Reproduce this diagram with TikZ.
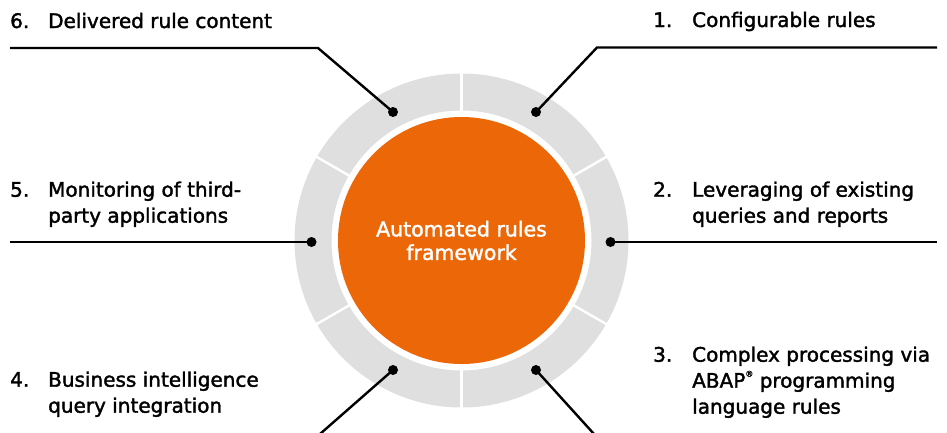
\documentclass[tikz,border=0pt]{standalone}
\usepackage{fontspec}
\setmainfont{DejaVu Sans}[FakeBold=1.8]
\usetikzlibrary{calc}
\definecolor{ringgray}{RGB}{223,223,223}
\definecolor{sapor}{RGB}{236,103,7}
\newcommand\numlab[3]{\makebox[#1][l]{#2}\parbox[t]{270pt}{\raggedright #3}}
\begin{document}
\begin{tikzpicture}[x=1pt,y=-1pt,
  lbl/.style={anchor=base west,inner sep=0pt,font=\fontsize{20}{26}\selectfont,text=black},
  dotnode/.style={circle,fill=black,minimum size=10pt,inner sep=0pt},
  conn/.style={line width=2.4pt,black},
  sep/.style={line width=2.4pt,white}]
\useasboundingbox (0,0) rectangle (947,432);
\coordinate (c) at (461.5,240.5);
% ring
\draw[ringgray,line width=37pt] (c) circle[radius=148.5];
\foreach \a in {90,30,-30,-90,150,210}
  \draw[sep] ($(c)+(\a:129)$) -- ($(c)+(\a:169)$);
% core
\node[circle,fill=sapor,minimum size=247pt,inner sep=0pt,align=center,text=white,
  font=\fontsize{20.5}{23.5}\selectfont] (core) at (c) {Automated rules\\framework};
% dots
\node[dotnode] (d1) at (536,112) {};
\node[dotnode] (d2) at (610.5,242) {};
\node[dotnode] (d3) at (536,370) {};
\node[dotnode] (d4) at (393,370) {};
\node[dotnode] (d5) at (311.5,242) {};
\node[dotnode] (d6) at (393,112) {};
% connector ends
\coordinate (k1) at (597,47.5);
\coordinate (e1) at (937,47.5);
\coordinate (e2) at (937,242);
\coordinate (e3) at (594,434);
\coordinate (e4) at (320,434);
\coordinate (e5) at (10,242);
\coordinate (k6) at (318,48);
\coordinate (e6) at (10,48);
\draw[conn] (d1.center) -- (k1) -- (e1);
\draw[conn] (d2.center) -- (e2);
\draw[conn] (d3.center) -- (e3);
\draw[conn] (d4.center) -- (e4);
\draw[conn] (d5.center) -- (e5);
\draw[conn] (d6.center) -- (k6) -- (e6);
% labels
\node[lbl] (l1) at (653,27) {\numlab{39pt}{1.}{Configurable rules}};
\node[lbl] (l2) at (653,196.7) {\numlab{39pt}{2.}{Leveraging of existing\\queries and reports}};
\node[lbl] (l3) at (653,361.7) {\numlab{39pt}{3.}{Complex processing via\\ABAP\raisebox{0.55em}{\fontsize{8}{8}\selectfont ®} programming\\language rules}};
\node[lbl] (l4) at (10,386.7) {\numlab{38pt}{4.}{Business intelligence\\query integration}};
\node[lbl] (l5) at (10,196.7) {\numlab{38pt}{5.}{Monitoring of third-\\party applications}};
\node[lbl] (l6) at (10,28) {\numlab{38pt}{6.}{Delivered rule content}};
\end{tikzpicture}
\end{document}
